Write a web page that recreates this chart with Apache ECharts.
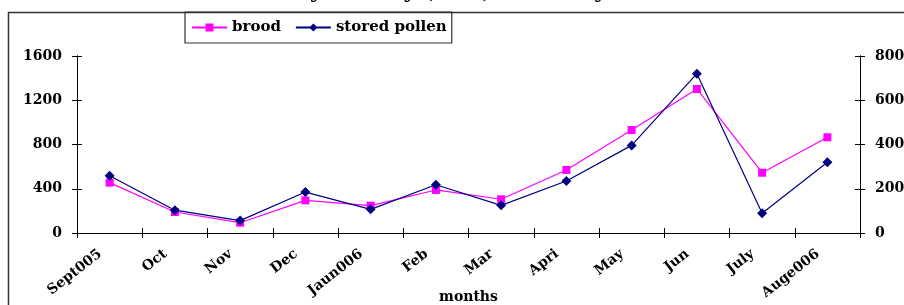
<!DOCTYPE html>
<html lang="en">
<head>
    <meta charset="UTF-8">
    <title>brood and stored pollen</title>
</head>
<body style="margin:0">
<div id='main' style="height: 305px;width: 904px"></div>
</body>
<script src="https://cdn.jsdelivr.net/npm/echarts@6/dist/echarts.min.js"></script>
<script>
    // months on the x axis
    var months = ['Sept005', 'Oct', 'Nov', 'Dec', 'Jaun006', 'Feb', 'Mar', 'Apri', 'May', 'Jun', 'July', 'Auge006'];
    // brood, left axis
    var brood = [455, 190, 93, 295, 247, 389, 305, 570, 931, 1302, 545, 865];
    // stored pollen, right axis
    var storedPollen = [259, 103, 56, 185, 107, 218, 125, 235, 396, 720, 89, 320];
    var leftTicks = {min: 0, max: 1600, interval: 400};
    var rightTicks = {min: 0, max: 800, interval: 200};

    var font = 'DejaVu Serif';
    var lbl = {color: '#000', fontFamily: font, fontWeight: 'bold', fontSize: 14};
    var axisLine = {show: true, lineStyle: {color: '#000', width: 1}};

    var myChart = echarts.init(document.getElementById('main'));

    function yAx(t, pos, inside, labels) {
        return {
            type: 'value', position: pos,
            min: t.min, max: t.max, interval: t.interval,
            splitLine: {show: false},
            axisLine: axisLine,
            axisTick: {show: true, inside: inside, length: 5, lineStyle: {color: '#000'}},
            axisLabel: labels ? Object.assign({margin: 15, formatter: function (v) { return String(v); }}, lbl) : {show: false}
        };
    }

    var option = {
        animation: false,
        // title is cut off by the top edge in the original
        title: {
            text: 'Colony activity (cm2) of colony',
            left: 237, top: -23,
            textStyle: {fontFamily: font, fontWeight: 'bold', fontSize: 21, color: '#000'}
        },
        graphic: [{
            type: 'rect', z: -1,
            shape: {x: 8.5, y: 12.5, width: 1000, height: 400},
            style: {fill: 'none', stroke: '#333', lineWidth: 1.5}
        }],
        legend: {
            left: 185, top: 12,
            itemWidth: 35, itemHeight: 10, itemGap: 14,
            padding: [8, 5, 8, 6],
            borderColor: '#333', borderWidth: 1.2,
            textStyle: {fontFamily: font, fontWeight: 'bold', fontSize: 15, color: '#000'},
            data: ['brood', 'stored pollen']
        },
        grid: {left: 77, right: 44, top: 56, bottom: 72, outerBoundsMode: 'none'},
        xAxis: [{
            type: 'category', data: months,
            axisLine: axisLine,
            axisTick: {show: true, length: 5, lineStyle: {color: '#000'}},
            axisLabel: Object.assign({rotate: 38, margin: 12, interval: 0, padding: [0, 12, 0, 0]}, lbl),
            name: 'months', nameLocation: 'middle', nameGap: 57, nameMoveOverlap: false,
            nameTextStyle: lbl
        }, {
            type: 'category', data: months, position: 'bottom',
            axisLine: {show: false},
            axisTick: {show: true, inside: true, length: 5, lineStyle: {color: '#000'}},
            axisLabel: {show: false}
        }],
        yAxis: [
            yAx(leftTicks, 'left', false, true),
            yAx(rightTicks, 'right', false, true),
            yAx(leftTicks, 'left', true, false),
            yAx(rightTicks, 'right', true, false)
        ],
        series: [{
            name: 'brood', type: 'line', data: brood, yAxisIndex: 0,
            symbol: 'rect', symbolSize: 8,
            itemStyle: {color: '#ff00ff'},
            lineStyle: {color: '#ff00ff', width: 1.2}
        }, {
            name: 'stored pollen', type: 'line', data: storedPollen, yAxisIndex: 1,
            symbol: 'diamond', symbolSize: 10,
            itemStyle: {color: '#000080'},
            lineStyle: {color: '#000080', width: 1.2}
        }]
    };
    myChart.setOption(option);
</script>
</html>
